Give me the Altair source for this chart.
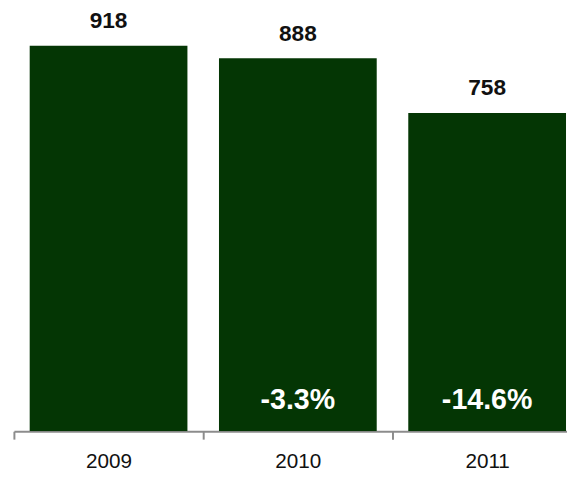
import altair as alt
import pandas as pd

years = ["2009", "2010", "2011"]
values = [918, 888, 758]
changes = ["", "-3.3%", "-14.6%"]

df = pd.DataFrame({"year": years, "value": values, "change": changes})

FONT = "Liberation Sans"
BAR = "#043604"
AXIS_GREY = "#8c8c8c"

x_enc = alt.X(
    "year:N",
    sort=years,
    title=None,
    scale=alt.Scale(paddingInner=0, paddingOuter=0, range=[0, 576]),
    axis=alt.Axis(
        labelAngle=0,
        tickBand="extent",
        domainColor=AXIS_GREY,
        domainWidth=2,
        tickColor=AXIS_GREY,
        tickWidth=2,
        tickSize=8,
        labelFontSize=21,
        labelColor="#111111",
        labelFont=FONT,
        labelPadding=12,
    ),
)
y_enc = alt.Y("value:Q", scale=alt.Scale(domain=[0, 1000]), axis=None)

base = alt.Chart(df)

bars = base.mark_bar(color=BAR, width=alt.RelativeBandSize(0.8333), clip=True).encode(
    x=x_enc, y=y_enc
)

top_labels = base.mark_text(
    font=FONT, fontSize=23, fontWeight="bold", baseline="alphabetic", dy=-18, color="#111111"
).encode(x=x_enc, y=y_enc, text="value:Q")

pct_labels = base.mark_text(
    font=FONT, fontSize=29, fontWeight="bold", baseline="alphabetic", dy=-23, color="white"
).encode(x=x_enc, y=alt.datum(0), text="change:N")

chart = (
    alt.layer(bars, top_labels, pct_labels)
    .properties(
        width=561,
        height=426,
        autosize=alt.AutoSizeParams(type="none"),
        padding={"left": 6, "top": 0, "right": 0, "bottom": 37},
    )
    .configure_view(stroke=None)
)

chart.save("out.html", embed_options={"renderer": "svg", "actions": False})
